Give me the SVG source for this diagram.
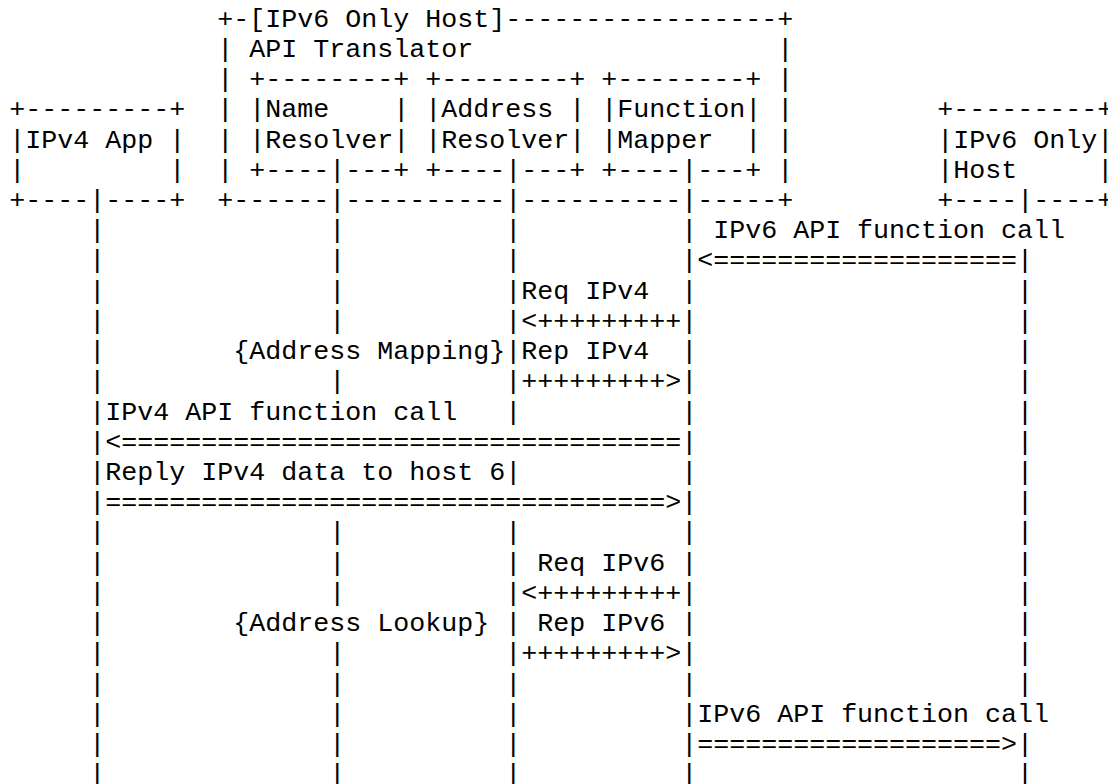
<svg xmlns="http://www.w3.org/2000/svg" width="1108" height="784" viewBox="0 0 1108 784">
<style>
text { font-family: 'Liberation Mono', 'Courier New', monospace; font-size: 26.667px; fill: #000; white-space: pre; }
</style>
<rect x="0" y="0" width="1108" height="784" fill="#fff"/>
<g id="ipv6-only-host-translator">
<text x="217.3" y="26.7" xml:space="preserve">+-[IPv6 Only Host]-----------------+</text>
<text x="217.3" y="56.92" xml:space="preserve">| API Translator</text>
<text x="217.3" y="87.14">|</text>
<text x="217.3" y="117.36">|</text>
<text x="217.3" y="147.58">|</text>
<text x="217.3" y="177.8">|</text>
<text x="777.3" y="56.92">|</text>
<text x="777.3" y="87.14">|</text>
<text x="777.3" y="117.36">|</text>
<text x="777.3" y="147.58">|</text>
<text x="777.3" y="177.8">|</text>
<text x="217.3" y="208.02" xml:space="preserve">+------|----------|----------|-----+</text>
</g>
<g id="name-resolver">
<text x="249.3" y="87.14" xml:space="preserve">+--------+</text>
<text x="249.3" y="117.36" xml:space="preserve">|Name    |</text>
<text x="249.3" y="147.58" xml:space="preserve">|Resolver|</text>
<text x="249.3" y="177.8" xml:space="preserve">+----|---+</text>
</g>
<g id="address-resolver">
<text x="425.3" y="87.14" xml:space="preserve">+--------+</text>
<text x="425.3" y="117.36" xml:space="preserve">|Address |</text>
<text x="425.3" y="147.58" xml:space="preserve">|Resolver|</text>
<text x="425.3" y="177.8" xml:space="preserve">+----|---+</text>
</g>
<g id="function-mapper">
<text x="601.3" y="87.14" xml:space="preserve">+--------+</text>
<text x="601.3" y="117.36" xml:space="preserve">|Function|</text>
<text x="601.3" y="147.58" xml:space="preserve">|Mapper  |</text>
<text x="601.3" y="177.8" xml:space="preserve">+----|---+</text>
</g>
<g id="ipv4-app">
<text x="9.3" y="117.36" xml:space="preserve">+---------+</text>
<text x="9.3" y="147.58" xml:space="preserve">|IPv4 App |</text>
<text x="9.3" y="177.8" xml:space="preserve">|         |</text>
<text x="9.3" y="208.02" xml:space="preserve">+----|----+</text>
</g>
<g id="ipv6-only-host">
<text x="937.3" y="117.36" xml:space="preserve">+---------+</text>
<text x="937.3" y="147.58" xml:space="preserve">|IPv6 Only|</text>
<text x="937.3" y="177.8" xml:space="preserve">|Host     |</text>
<text x="937.3" y="208.02" xml:space="preserve">+----|----+</text>
</g>
<g id="connectors">
<text x="89.3" y="238.24" xml:space="preserve">|              |          |          | IPv6 API function call</text>
<text x="89.3" y="268.46" xml:space="preserve">|              |          |          |&lt;===================|</text>
<text x="89.3" y="298.68" xml:space="preserve">|              |          |Req IPv4  |                    |</text>
<text x="89.3" y="328.9" xml:space="preserve">|              |          |&lt;+++++++++|                    |</text>
<text x="89.3" y="359.12" xml:space="preserve">|        {Address Mapping}|Rep IPv4  |                    |</text>
<text x="89.3" y="389.34" xml:space="preserve">|              |          |+++++++++&gt;|                    |</text>
<text x="89.3" y="419.56" xml:space="preserve">|IPv4 API function call   |          |                    |</text>
<text x="89.3" y="449.78" xml:space="preserve">|&lt;===================================|                    |</text>
<text x="89.3" y="480" xml:space="preserve">|Reply IPv4 data to host 6|          |                    |</text>
<text x="89.3" y="510.22" xml:space="preserve">|===================================&gt;|                    |</text>
<text x="89.3" y="540.44" xml:space="preserve">|              |          |          |                    |</text>
<text x="89.3" y="570.66" xml:space="preserve">|              |          | Req IPv6 |                    |</text>
<text x="89.3" y="600.88" xml:space="preserve">|              |          |&lt;+++++++++|                    |</text>
<text x="89.3" y="631.1" xml:space="preserve">|        {Address Lookup} | Rep IPv6 |                    |</text>
<text x="89.3" y="661.32" xml:space="preserve">|              |          |+++++++++&gt;|                    |</text>
<text x="89.3" y="691.54" xml:space="preserve">|              |          |          |                    |</text>
<text x="89.3" y="721.76" xml:space="preserve">|              |          |          |IPv6 API function call</text>
<text x="89.3" y="751.98" xml:space="preserve">|              |          |          |===================&gt;|</text>
<text x="89.3" y="782.2" xml:space="preserve">|              |          |          |                    |</text>
</g>
</svg>
